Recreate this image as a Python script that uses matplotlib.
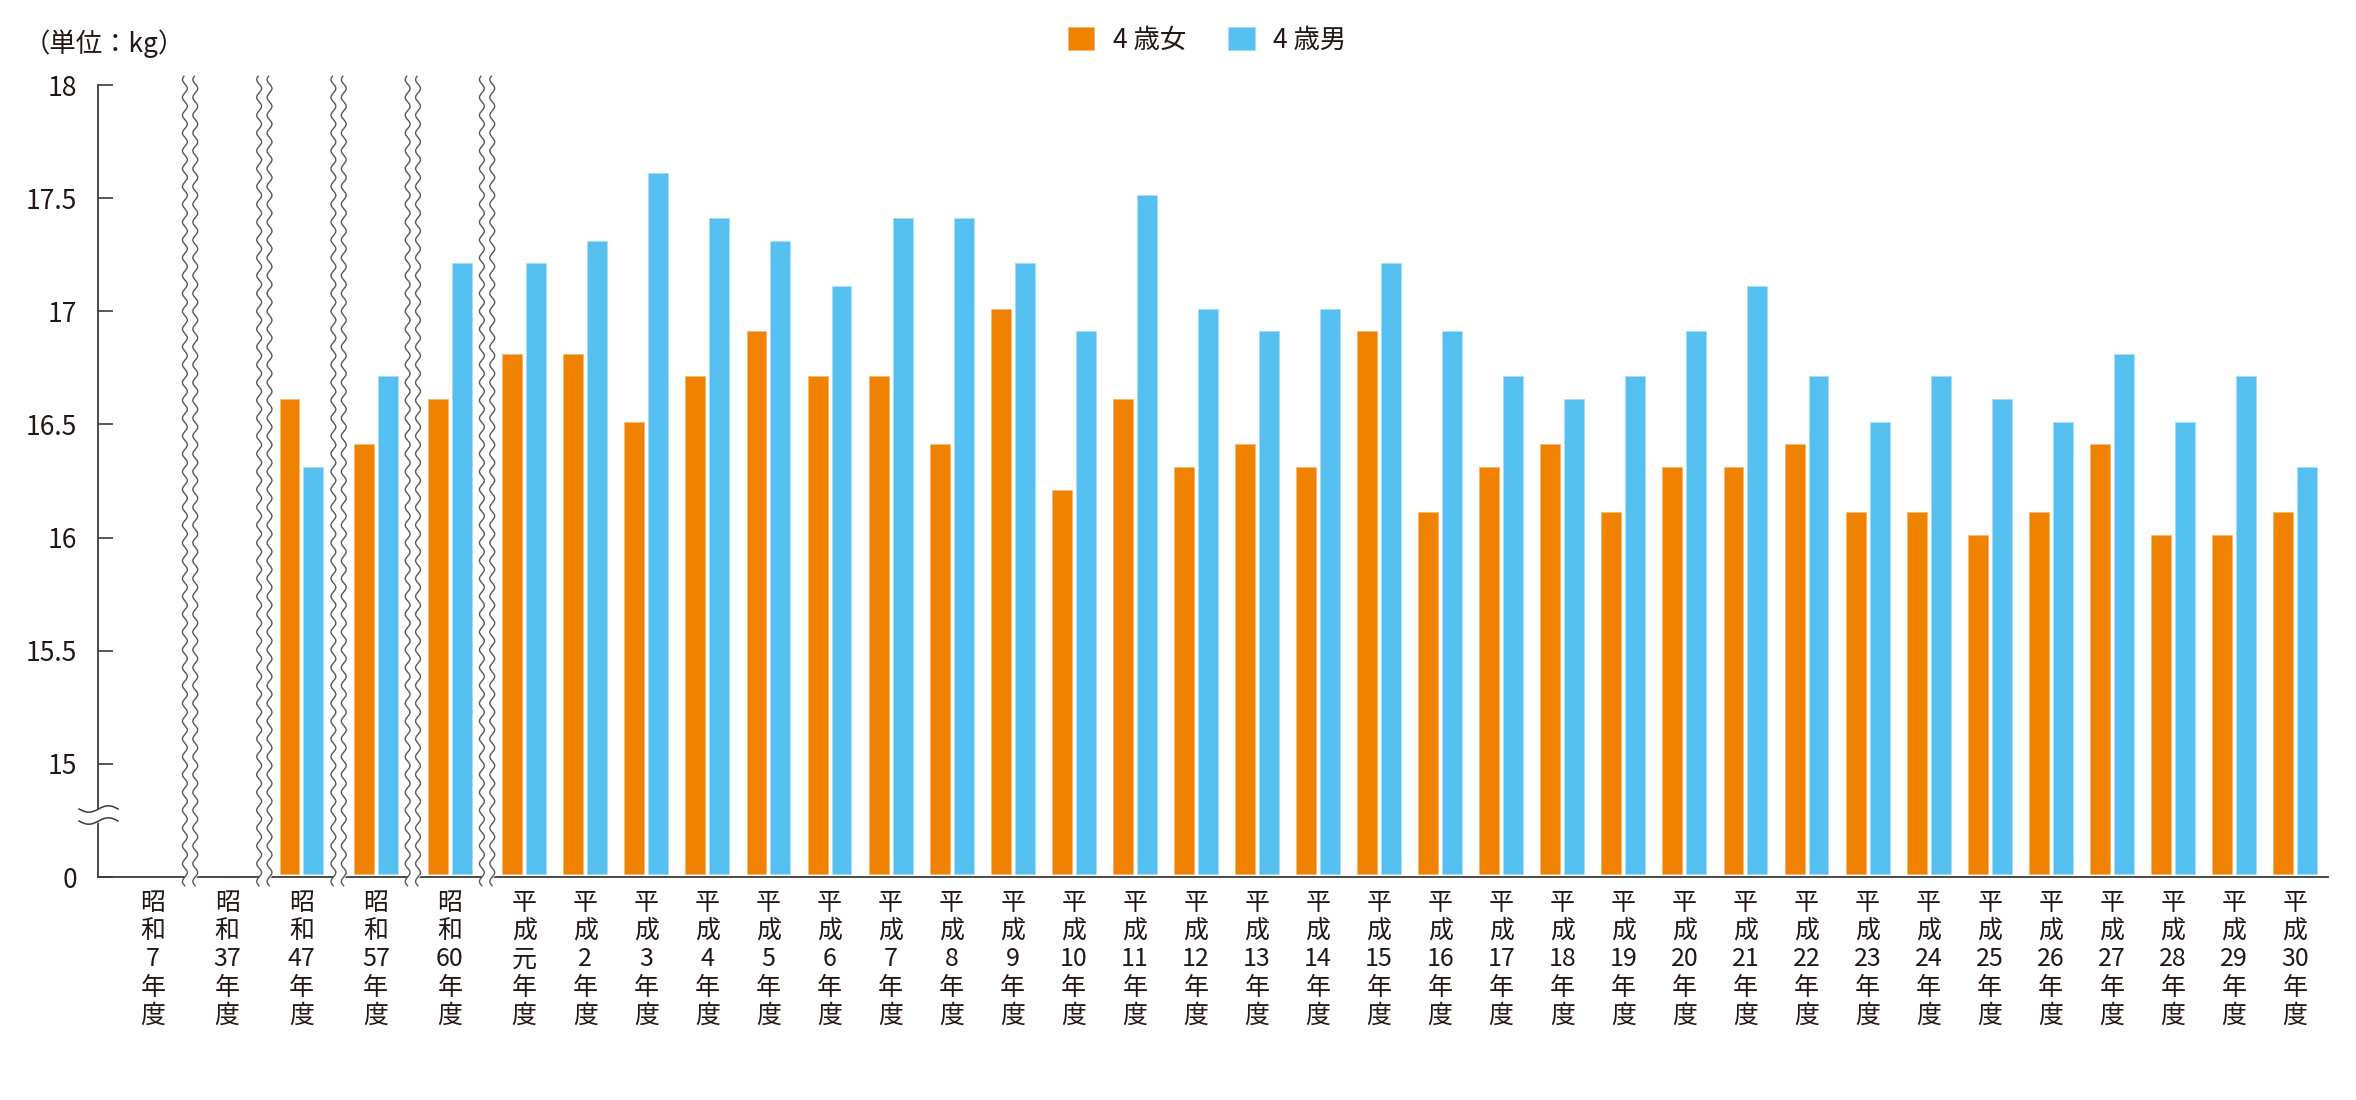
import numpy as np
import matplotlib
matplotlib.use('Agg')
from matplotlib import pyplot as plt

plt.rcParams['font.family'] = ['Noto Sans CJK JP', 'DejaVu Sans']

# data (unit: kg)
years = ['昭和7年度', '昭和37年度', '昭和47年度', '昭和57年度', '昭和60年度',
         '平成元年度', '平成2年度', '平成3年度', '平成4年度', '平成5年度',
         '平成6年度', '平成7年度', '平成8年度', '平成9年度', '平成10年度',
         '平成11年度', '平成12年度', '平成13年度', '平成14年度', '平成15年度',
         '平成16年度', '平成17年度', '平成18年度', '平成19年度', '平成20年度',
         '平成21年度', '平成22年度', '平成23年度', '平成24年度', '平成25年度',
         '平成26年度', '平成27年度', '平成28年度', '平成29年度', '平成30年度']
girls = [np.nan, np.nan, 16.6, 16.4, 16.6,
         16.8, 16.8, 16.5, 16.7, 16.9, 16.7, 16.7, 16.4, 17.0, 16.2,
         16.6, 16.3, 16.4, 16.3, 16.9, 16.1, 16.3, 16.4, 16.1, 16.3,
         16.3, 16.4, 16.1, 16.1, 16.0, 16.1, 16.4, 16.0, 16.0, 16.1]
boys = [np.nan, np.nan, 16.3, 16.7, 17.2,
        17.2, 17.3, 17.6, 17.4, 17.3, 17.1, 17.4, 17.4, 17.2, 16.9,
        17.5, 17.0, 16.9, 17.0, 17.2, 16.9, 16.7, 16.6, 16.7, 16.9,
        17.1, 16.7, 16.5, 16.7, 16.6, 16.5, 16.8, 16.5, 16.7, 16.3]
series_names = ['4 歳女', '4 歳男']
ytick_vals = [0, 15, 15.5, 16, 16.5, 17, 17.5, 18]
n_showa = 5  # first categories separated by wavy breaks

ORANGE = '#EF8200'
BLUE = '#55C0EF'
INK = '#231815'
AXC = '#3E3A39'

# 0 is drawn one half-step below 15 (broken axis)
BASE = 14.5
def ymap(v):
    return BASE if v == 0 else v

# Showa columns are spaced a bit wider than the Heisei ones
wide = 1.216
x = np.array([i * wide if i <= n_showa else n_showa * wide + (i - n_showa)
              for i in range(len(years))])
g = np.array(girls)
b = np.array(boys)

fig = plt.figure(figsize=(23.56, 11), dpi=100)
ax = fig.add_axes([98 / 2356, 1 - 877 / 1100, (2328 - 98) / 2356, (877 - 85) / 1100])

w = 0.327
off = 0.196
ax.bar(x - off, g - BASE, w, bottom=BASE + 0.012, color=ORANGE, label=series_names[0],
       edgecolor='#F6B870', linewidth=0.6)
ax.bar(x + off, b - BASE, w, bottom=BASE + 0.012, color=BLUE, label=series_names[1],
       edgecolor='#A8DDF6', linewidth=0.6)

ax.set_xlim(x[0] - 0.90, x[-1] + 0.54)
ax.set_ylim(BASE, 18)

for s in ['top', 'right']:
    ax.spines[s].set_visible(False)
for s in ['left', 'bottom']:
    ax.spines[s].set_color(AXC)
    ax.spines[s].set_linewidth(1.3)

ax.set_yticks([ymap(v) for v in ytick_vals])
ax.set_yticklabels([('%g' % v) for v in ytick_vals])
ax.tick_params(axis='y', direction='in', length=11, width=1.2, color=AXC,
               pad=15, labelsize=19, labelcolor=INK)


def vertical(label):
    era, rest = label[:2], label[2:-2]
    return '\n'.join([era[0], era[1], rest, '年', '度'])

ax.set_xticks(x)
ax.set_xticklabels([vertical(s) for s in years], fontsize=18, color=INK,
                   linespacing=1.12, va='top')
ax.tick_params(axis='x', length=0, pad=9)

# wavy separators between the first categories
ts = np.linspace(0, 1, 800)
amp = 0.04
period = 0.0225
tr = ax.get_xaxis_transform()
for k in range(n_showa):
    xm = (x[k] + x[k + 1]) / 2
    yy = -0.011 + ts * 1.022
    wave = amp * np.sin(2 * np.pi * yy / period)
    xl = xm - 0.085 + wave
    xr = xm + 0.085 + wave
    ax.fill_betweenx(yy, xl, xr, color='white', transform=tr, clip_on=False, zorder=5)
    ax.plot(xl, yy, color='#5A5656', lw=1.0, transform=tr, clip_on=False, zorder=6)
    ax.plot(xr, yy, color='#5A5656', lw=1.0, transform=tr, clip_on=False, zorder=6)

# axis break mark on the y axis
yb = (876 - 814) / (877 - 85)
xs = np.linspace(-0.0085, 0.009, 100)
wv = -0.004 * np.sin(2 * np.pi * (xs + 0.0085) / 0.0175)
y1 = yb + 0.0076 + wv
y2 = yb - 0.0076 + wv
tr2 = ax.transAxes
ax.fill_between(xs, y2, y1, color='white', transform=tr2, clip_on=False, zorder=5)
ax.plot(xs, y1, color=AXC, lw=1.1, transform=tr2, clip_on=False, zorder=6)
ax.plot(xs, y2, color=AXC, lw=1.1, transform=tr2, clip_on=False, zorder=6)

# unit label and legend
fig.text(24 / 2356, 1 - 44 / 1100, '（単位：kg）', fontsize=19, color=INK, va='center', ha='left')
leg = fig.legend(loc='center', bbox_to_anchor=(1207 / 2356, 1 - 40 / 1100), ncol=2,
                 frameon=False, fontsize=19, handlelength=1.0, handleheight=1.0,
                 handletextpad=0.7, columnspacing=1.6)
for t in leg.get_texts():
    t.set_color(INK)

fig.savefig('out.png', dpi=100, facecolor='white')
